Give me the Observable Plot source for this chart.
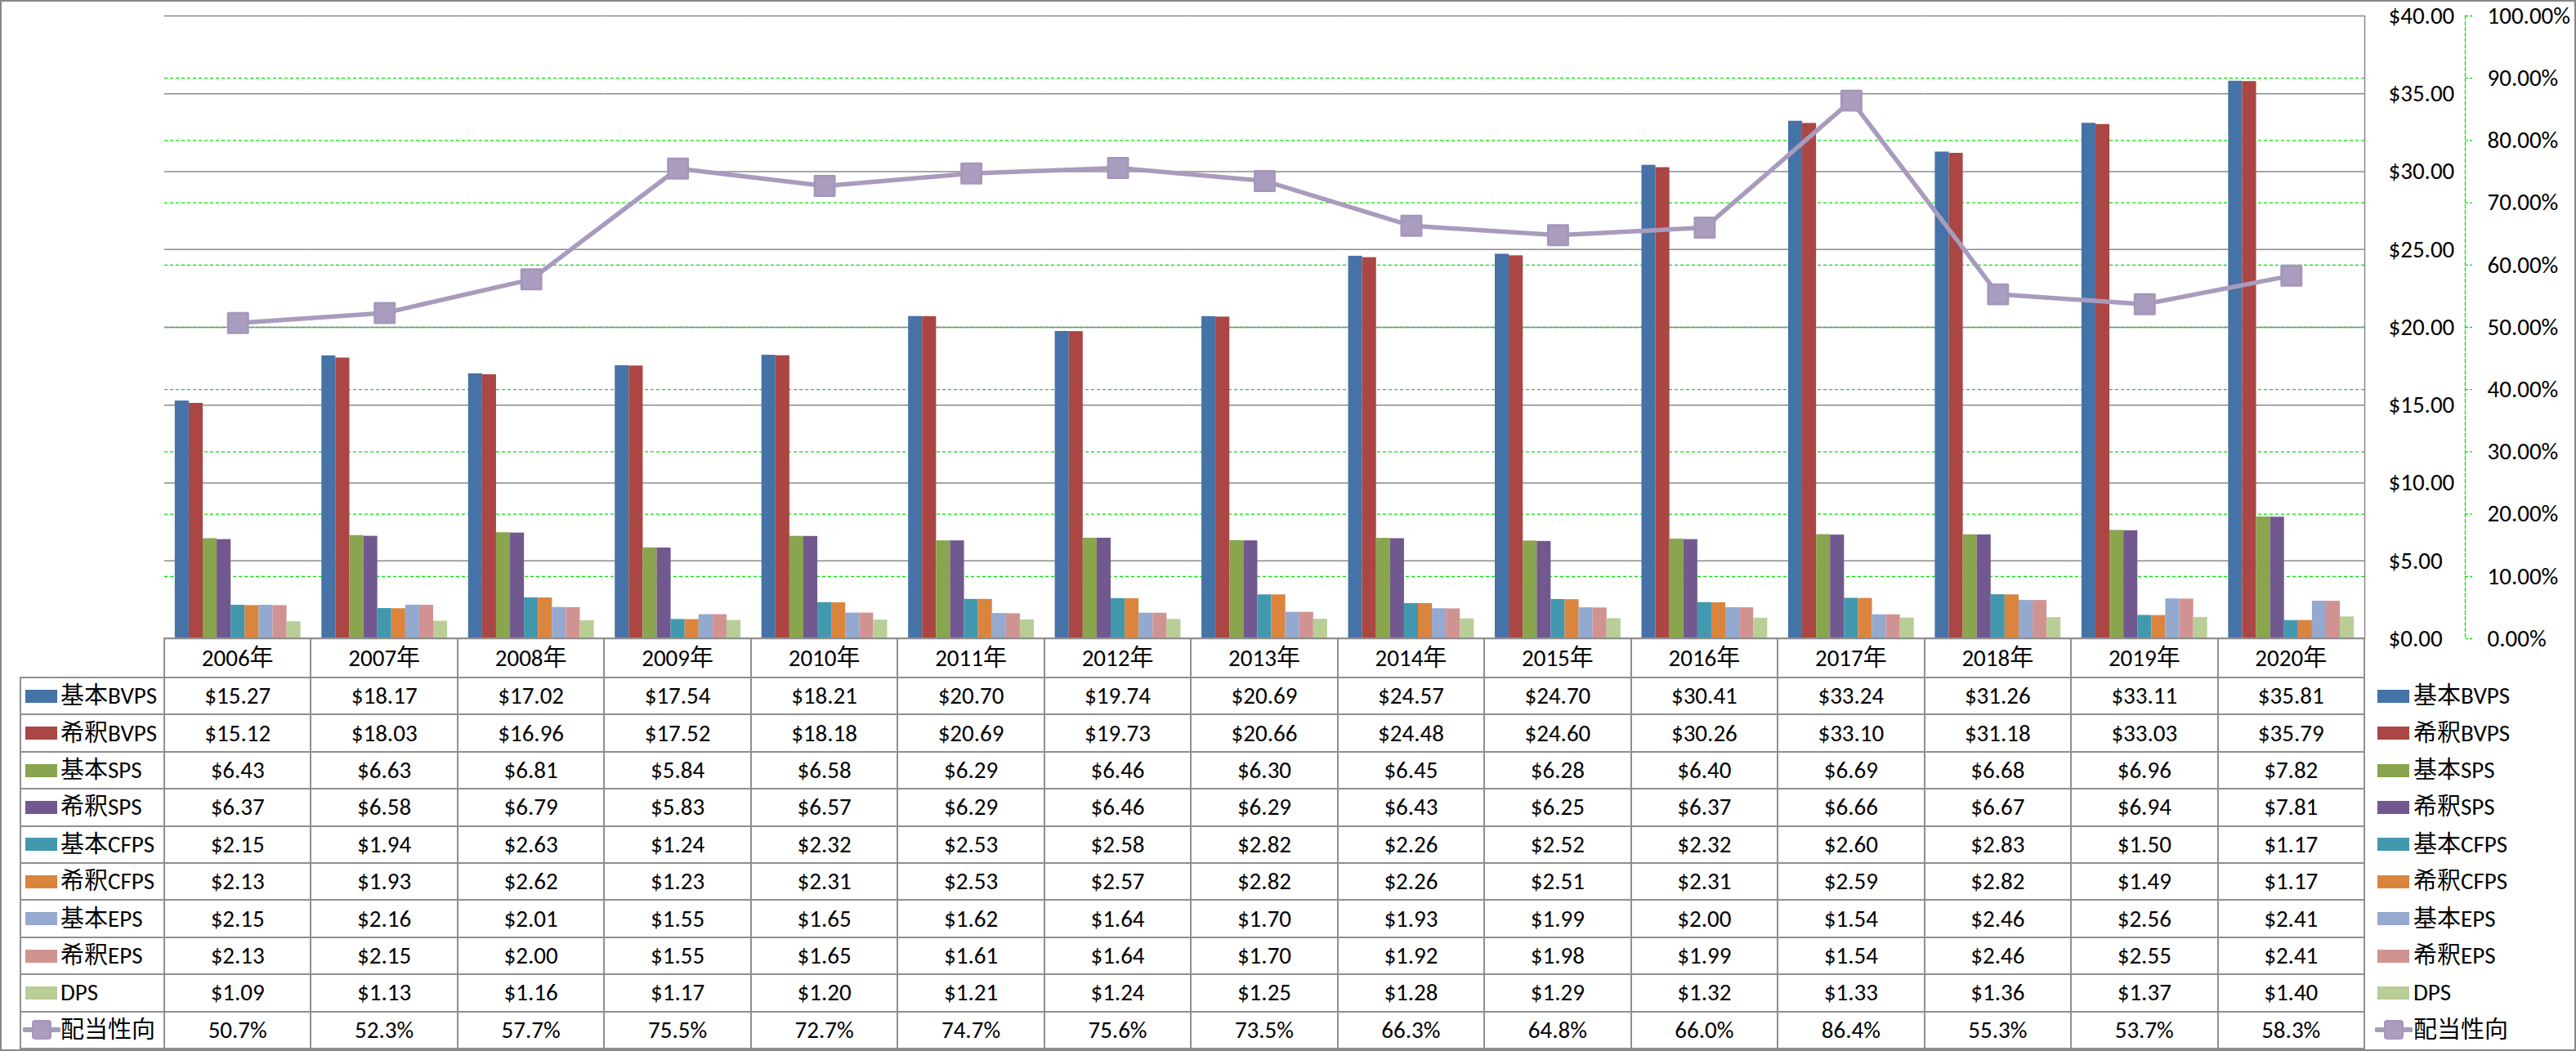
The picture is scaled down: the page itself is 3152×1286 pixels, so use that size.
<!DOCTYPE html>
<html><head><meta charset="utf-8">
<script src="https://cdn.jsdelivr.net/npm/d3@7"></script>
<script src="https://cdn.jsdelivr.net/npm/@observablehq/plot@0.6"></script>
<style>
html,body{margin:0;padding:0;background:#fff;}
#chart{position:relative;width:3152px;height:1286px;overflow:hidden;background:#fff;font-family:Carlito,Lato,"Noto Sans CJK JP",sans-serif;font-size:29px;color:#000;}
#chart svg{position:absolute;left:0;top:0;}
.cell{position:absolute;display:flex;align-items:center;justify-content:center;white-space:nowrap;line-height:1;}
.lab{position:absolute;display:flex;align-items:center;white-space:nowrap;line-height:1;}
.ln{position:absolute;background:#8f8f8f;}
.sw{position:absolute;}
</style></head><body><div id="chart"></div>
<script>
// ---- data ----
const years = ["2006年","2007年","2008年","2009年","2010年","2011年","2012年","2013年","2014年","2015年","2016年","2017年","2018年","2019年","2020年"];
const seriesNames = ["基本BVPS","希釈BVPS","基本SPS","希釈SPS","基本CFPS","希釈CFPS","基本EPS","希釈EPS","DPS"];
const seriesColors = ["#4572a7","#aa4643","#89a54e","#71588f","#4198af","#db843d","#93a9cf","#d19392","#b9cd96"];
const basicBVPS = [15.27,18.17,17.02,17.54,18.21,20.70,19.74,20.69,24.57,24.70,30.41,33.24,31.26,33.11,35.81];
const dilutedBVPS = [15.12,18.03,16.96,17.52,18.18,20.69,19.73,20.66,24.48,24.60,30.26,33.10,31.18,33.03,35.79];
const basicSPS = [6.43,6.63,6.81,5.84,6.58,6.29,6.46,6.30,6.45,6.28,6.40,6.69,6.68,6.96,7.82];
const dilutedSPS = [6.37,6.58,6.79,5.83,6.57,6.29,6.46,6.29,6.43,6.25,6.37,6.66,6.67,6.94,7.81];
const basicCFPS = [2.15,1.94,2.63,1.24,2.32,2.53,2.58,2.82,2.26,2.52,2.32,2.60,2.83,1.50,1.17];
const dilutedCFPS = [2.13,1.93,2.62,1.23,2.31,2.53,2.57,2.82,2.26,2.51,2.31,2.59,2.82,1.49,1.17];
const basicEPS = [2.15,2.16,2.01,1.55,1.65,1.62,1.64,1.70,1.93,1.99,2.00,1.54,2.46,2.56,2.41];
const dilutedEPS = [2.13,2.15,2.00,1.55,1.65,1.61,1.64,1.70,1.92,1.98,1.99,1.54,2.46,2.55,2.41];
const DPS = [1.09,1.13,1.16,1.17,1.20,1.21,1.24,1.25,1.28,1.29,1.32,1.33,1.36,1.37,1.40];
const lineName = "配当性向";
const lineColor = "#a99bbd";
const payoutRatio = [50.7,52.3,57.7,75.5,72.7,74.7,75.6,73.5,66.3,64.8,66.0,86.4,55.3,53.7,58.3];
const dollarTicks = [0,5,10,15,20,25,30,35,40];
const pctTicks = [0,10,20,30,40,50,60,70,80,90,100];

const seriesValues = [basicBVPS,dilutedBVPS,basicSPS,dilutedSPS,basicCFPS,dilutedCFPS,basicEPS,dilutedEPS,DPS];
const barData = [];
years.forEach((y,i)=>seriesNames.forEach((s,j)=>barData.push({year:y, series:s, value:seriesValues[j][i]})));
const lineData = years.map((y,i)=>({year:y, pct:payoutRatio[i]}));

// ---- layout ----
const W = 3152, H = 800;
const mL = 201, mR = 259, mT = 19, mB = 19;
const font = "Carlito, Lato, 'Noto Sans CJK JP', sans-serif";
const baseStyle = {background:"transparent", fontFamily:font, fontSize:"29px", color:"#000", overflow:"visible"};
const green = "#00e400";
const chart = document.getElementById("chart");

// layer 1: percent grid + secondary axis
const p1 = Plot.plot({
  width:W, height:H, marginLeft:mL, marginRight:mR, marginTop:mT, marginBottom:mB,
  style: baseStyle,
  x:{type:"band", domain:years, padding:0, round:false, axis:null},
  y:{domain:[0,100], axis:null, label:null},
  marks:[
    Plot.gridY(pctTicks.filter(d=>d>0 && d<100), {stroke:green, strokeOpacity:1, strokeWidth:1.3, strokeDasharray:"4,3"}),
    Plot.frame({anchor:"right", dx:123, stroke:green, strokeWidth:1.3, strokeDasharray:"4,3"}),
    Plot.axisY(pctTicks, {anchor:"right", dx:123, tickSize:9, tickPadding:18, stroke:green, strokeWidth:1.3, strokeDasharray:"3,2", fill:"#000", fontSize:29, textAnchor:"start", label:null, tickFormat:d=>d.toFixed(2)+"%"}),
    Plot.frame({anchor:"right", stroke:"#8a8a8a", strokeWidth:1.5})
  ]
});
chart.appendChild(p1);

// layer 2: bars + primary grid + $ axis
const p2 = Plot.plot({
  width:W, height:H, marginLeft:mL, marginRight:mR, marginTop:mT, marginBottom:mB,
  style: baseStyle,
  fx:{domain:years, padding:0, round:false, axis:null, label:null},
  x:{domain:seriesNames, paddingInner:0, paddingOuter:0.75, round:false, axis:null, label:null},
  y:{domain:[0,40], axis:null, label:null},
  color:{domain:seriesNames, range:seriesColors},
  marks:[
    Plot.gridY(dollarTicks, {stroke:"#8a8a8a", strokeOpacity:1, strokeWidth:1.5}),
    Plot.barY(barData, {fx:"year", x:"series", y:"value", fill:"series"}),
    Plot.axisY(dollarTicks, {anchor:"right", tickSize:0, tickPadding:29, fill:"#000", fontSize:29, textAnchor:"start", label:null, tickFormat:d=>"$"+d.toFixed(2)})
  ]
});
chart.appendChild(p2);

// layer 3: payout ratio line
const p3 = Plot.plot({
  width:W, height:H, marginLeft:mL, marginRight:mR, marginTop:mT, marginBottom:mB,
  style: baseStyle,
  x:{type:"band", domain:years, padding:0, round:false, axis:null},
  y:{domain:[0,100], axis:null, label:null},
  marks:[
    Plot.line(lineData, {x:"year", y:"pct", stroke:lineColor, strokeWidth:5.5}),
    Plot.dot(lineData, {x:"year", y:"pct", symbol:"square", r:13.5, fill:"#ab9dc0", stroke:"#a596ba", strokeWidth:3, strokeLinejoin:"round"})
  ]
});
chart.appendChild(p3);

// ---- data table ----
const tLeft = 25, tRight = W - mR, colW = (W - mL - mR)/years.length;
const headTop = H - mB, headH = 48, rowTop = headTop + headH, rowH = 45.4;
const nRows = seriesNames.length + 1, tBottom = rowTop + nRows*rowH;
function div(cls, css, html){const d=document.createElement("div");d.className=cls;Object.assign(d.style,css);if(html!==undefined)d.innerHTML=html;chart.appendChild(d);return d;}
// horizontal lines
div("ln",{left:mL+"px",top:(headTop-1)+"px",width:(tRight-mL)+"px",height:"2px"});
for(let r=0;r<=nRows;r++){const y=rowTop+r*rowH;div("ln",{left:tLeft+"px",top:(y-1)+"px",width:(tRight-tLeft)+"px",height:"2px"});}
// vertical lines
div("ln",{left:(tLeft-1)+"px",top:(rowTop-1)+"px",width:"2px",height:(tBottom-rowTop+2)+"px"});
for(let c=0;c<=years.length;c++){const x=mL+c*colW;div("ln",{left:(x-1)+"px",top:(headTop-1)+"px",width:"2px",height:(tBottom-headTop+2)+"px"});}
// header
years.forEach((y,i)=>div("cell",{left:(mL+i*colW)+"px",top:headTop+"px",width:colW+"px",height:headH+"px"},y));
// values
seriesNames.forEach((s,j)=>{
  years.forEach((y,i)=>div("cell",{left:(mL+i*colW)+"px",top:(rowTop+j*rowH)+"px",width:colW+"px",height:rowH+"px"},"$"+seriesValues[j][i].toFixed(2)));
});
years.forEach((y,i)=>div("cell",{left:(mL+i*colW)+"px",top:(rowTop+seriesNames.length*rowH)+"px",width:colW+"px",height:rowH+"px"},payoutRatio[i].toFixed(1)+"%"));
// legend entries (left inside table, right outside)
function legend(swX, txtX){
  seriesNames.forEach((s,j)=>{
    const cy = rowTop + j*rowH + rowH/2;
    div("sw",{left:swX+"px",top:(cy-8)+"px",width:"39px",height:"16px",background:seriesColors[j]});
    div("lab",{left:txtX+"px",top:(rowTop+j*rowH)+"px",height:rowH+"px"},s);
  });
  const cy = rowTop + seriesNames.length*rowH + rowH/2;
  div("sw",{left:(swX-3)+"px",top:(cy-22)+"px",width:"46px",height:"44px"},
    `<svg width="46" height="44" style="position:static"><line x1="2" y1="22" x2="44" y2="22" stroke="${lineColor}" stroke-width="6" stroke-linecap="round"/><rect x="12" y="11" width="22" height="22" rx="3" fill="#ab9dc0" stroke="#a596ba" stroke-width="2"/></svg>`);
  div("lab",{left:txtX+"px",top:(rowTop+seriesNames.length*rowH)+"px",height:rowH+"px"},lineName);
}
legend(31, 74);
legend(2909, 2953);
const outer = div("",{position:"absolute",left:"0",top:"0",width:"3152px",height:"1286px",boxSizing:"border-box",border:"2px solid #878787",pointerEvents:"none"});
</script>
</body></html>
